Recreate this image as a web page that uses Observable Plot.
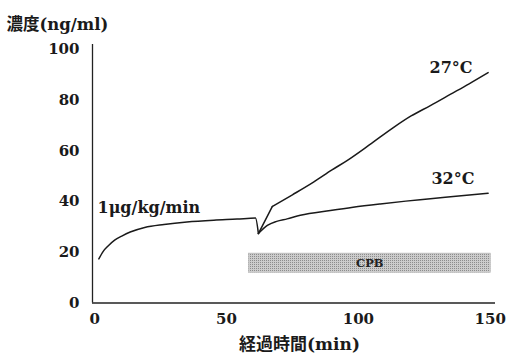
<!DOCTYPE html>
<html>
<head>
<meta charset="utf-8">
<script src="https://cdn.jsdelivr.net/npm/d3@7"></script>
<script src="https://cdn.jsdelivr.net/npm/@observablehq/plot@0.6"></script>
<style>
  body { margin: 0; background: #fff; }
  svg { display: block; }
</style>
</head>
<body>
<div id="chart"></div>
<script>
// Baseline infusion (1 µg/kg/min) up to the CPB dip
const baseTime  = [1.6, 3.2, 5.3, 7.6, 10.3, 13.5, 19, 26.3, 35, 45.2, 54, 61, 62.1];
const baseConc  = [17.4, 20.3, 22.7, 24.8, 26.4, 28.0, 29.8, 31.0, 32.0, 32.7, 33.1, 33.5, 27.4];
// 27 °C branch: sharp rise right after the dip, then a smooth climb
const t27rise = [62.1, 67.4];
const v27rise = [27.4, 38.1];
const t27 = [67.4, 75, 83, 90, 95.7, 105, 113.4, 120, 127.3, 135, 142, 149.2];
const v27 = [38.1, 42.7, 47.7, 52.5, 56.2, 63.0, 69.3, 73.8, 77.9, 82.4, 86.5, 90.9];
// 32 °C branch
const t32 = [62.1, 65.5, 69, 73, 78, 89.4, 98, 108.3, 118, 127.3, 138, 149.2];
const v32 = [27.4, 30.6, 32.2, 33.2, 34.6, 36.5, 37.8, 39.1, 40.2, 41.1, 42.2, 43.3];
// CPB period bar
const cpb = [{x1: 58.5, x2: 150.2, y1: 11.9, y2: 19.5, label: "CPB"}];
const xTicks = [0, 50, 100, 150];
const yTicks = [0, 20, 40, 60, 80, 100];
const labels = [
  {x: 1.1, y: 37.6, text: "1μg/kg/min"},
  {x: 127, y: 92.6, text: "27°C"},
  {x: 127.7, y: 48.9, text: "32°C"}
];

const rows = [
  ...baseTime.map((t, i) => ({t, c: baseConc[i], s: "base"})),
  ...t27rise.map((t, i) => ({t, c: v27rise[i], s: "27a"})),
  ...t27.map((t, i) => ({t, c: v27[i], s: "27"})),
  ...t32.map((t, i) => ({t, c: v32[i], s: "32"}))
];

const serif = "'DejaVu Serif', 'Noto Sans CJK JP', serif";

const plot = Plot.plot({
  width: 509,
  height: 364,
  marginLeft: 92,
  marginRight: 14,
  marginTop: 44,
  marginBottom: 61.5,
  style: {fontFamily: serif, background: "#fff", color: "#1a1a1a"},
  x: {domain: [-0.8, 152]},
  y: {domain: [0, 102]},
  marks: [
    Plot.rect(cpb, {x1: "x1", x2: "x2", y1: "y1", y2: "y2", fill: "url(#cpbPattern)", stroke: "#aaa", strokeWidth: 0.5}),
    Plot.text(cpb, {x: d => (d.x1 + d.x2) / 2, y: d => (d.y1 + d.y2) / 2, text: "label", fontSize: 11.5, fontWeight: "bold", fill: "#222"}),
    Plot.ruleX([-0.8], {stroke: "#222", strokeWidth: 1.3}),
    Plot.ruleY([0], {stroke: "#222", strokeWidth: 1.3}),
    Plot.axisX({ticks: xTicks, tickSize: 0, tickPadding: 10, label: null, fontSize: 15, fontWeight: "bold"}),
    Plot.axisY({ticks: yTicks, tickSize: 0, tickPadding: 13, label: null, fontSize: 15, fontWeight: "bold"}),
    Plot.line(rows, {x: "t", y: "c", z: "s", stroke: "#1a1a1a", strokeWidth: 1.5, curve: "monotone-x"}),
    Plot.text(labels, {x: "x", y: "y", text: "text", textAnchor: "start", fontSize: 16, fontWeight: "bold", fill: "#1a1a1a"}),
    Plot.text(["濃度(ng/ml)"], {frameAnchor: "top-left", dx: -86, dy: -26, textAnchor: "start", fontSize: 16.5, fontWeight: "bold", fill: "#1a1a1a"}),
    Plot.text(["経過時間(min)"], {frameAnchor: "bottom", dx: 5.5, dy: 47, fontSize: 17, fontWeight: "bold", fill: "#1a1a1a"})
  ]
});

// dotted texture for the CPB bar
const ns = "http://www.w3.org/2000/svg";
const defs = document.createElementNS(ns, "defs");
const pat = document.createElementNS(ns, "pattern");
pat.setAttribute("id", "cpbPattern");
pat.setAttribute("patternUnits", "userSpaceOnUse");
pat.setAttribute("width", "2");
pat.setAttribute("height", "2");
const bg = document.createElementNS(ns, "rect");
bg.setAttribute("width", "2"); bg.setAttribute("height", "2"); bg.setAttribute("fill", "#cccccc");
pat.appendChild(bg);
const dot = document.createElementNS(ns, "rect");
dot.setAttribute("x", "0"); dot.setAttribute("y", "0");
dot.setAttribute("width", "1"); dot.setAttribute("height", "1");
dot.setAttribute("fill", "#8c8c8c");
pat.appendChild(dot);
defs.appendChild(pat);
plot.insertBefore(defs, plot.firstChild);

document.getElementById("chart").appendChild(plot);
</script>
</body>
</html>
